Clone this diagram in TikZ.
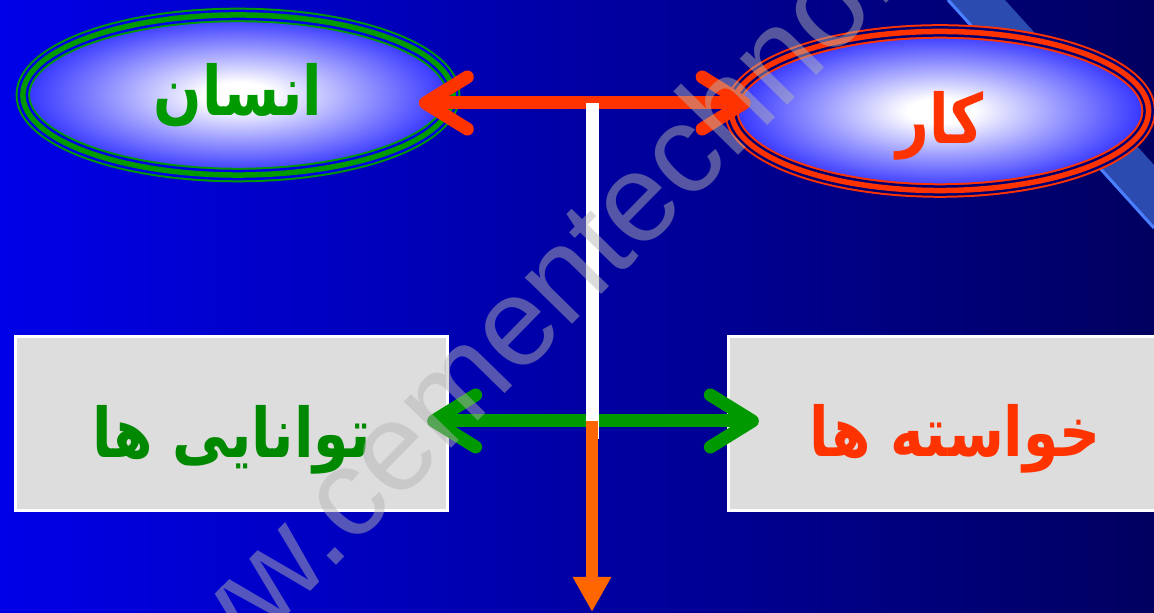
\documentclass[tikz,border=0pt]{standalone}
\usepackage{fontspec}
\setmainfont{Liberation Sans}
\newfontfamily\arabicfont[Script=Arabic, FakeStretch=0.83]{DejaVu Sans}
\TeXXeTstate=1
\usetikzlibrary{positioning,shapes.geometric,arrows.meta}
\definecolor{bgleft}{HTML}{0000E8}
\definecolor{bgmid}{HTML}{0000B8}
\definecolor{bgright}{HTML}{000060}
\definecolor{bandblue}{HTML}{2B4BB0}
\definecolor{bandedge}{HTML}{4A80FF}
\definecolor{ovalblue}{HTML}{3030FF}
\definecolor{humangreen}{HTML}{009900}
\definecolor{boxgreen}{HTML}{008800}
\definecolor{workred}{HTML}{FF3300}
\definecolor{outorange}{HTML}{FF6600}
\definecolor{boxgray}{HTML}{DDDDDD}
\definecolor{markgray}{HTML}{B4B4B4}
\newcommand{\fatext}[2][0pt]{\raisebox{#1}[\height][\depth]{\arabicfont\bfseries\beginR #2\endR}}
\pgfdeclareradialshading{glow}{\pgfpoint{0bp}{0bp}}{color(0bp)=(white); color(4bp)=(white); color(25bp)=(ovalblue); color(50bp)=(ovalblue)}
\tikzset{barb/.tip={Straight Barb[round, length=0.42cm, width=0.52cm]}}

\begin{document}
\begin{tikzpicture}[x=0.01cm, y=-0.01cm,
	every node/.style={font=\fontsize{19.5}{22}\selectfont,
	                   inner sep=0pt
	                   },
	oval/.style 2 args={ellipse,
	                    shading=glow,
	                    postaction={draw=#1, line width=0.145cm},
	                    postaction={draw=#2, line width=0.105cm},
	                    postaction={draw=#1, line width=0.055cm}
	},
	card/.style={rectangle, fill=boxgray, draw=white, line width=0.03cm,
	             minimum height=1.74cm
	},
	link/.style={draw=#1, line width=0.13cm, barb-barb}
]
	\clip (0,0) rectangle (1154,613);
	\shade[left color=bgleft, middle color=bgmid, right color=bgright] (0,0) rectangle (1154,613);
	\fill[bandblue] (948,0) -- (1154,228) -- (1154,165) -- (1005,0) -- cycle;
	\draw[bandedge, line width=0.03cm] (948,0) -- (1154,228);

	\node (human) [oval={humangreen}{bgleft}, minimum width=4.3cm, minimum height=1.6cm] at (238,95) {\textcolor{humangreen}{\fatext{انسان}}};
	\node (work) [oval={workred}{bgright!80!bgmid}, minimum width=4.17cm, minimum height=1.59cm] at (940,111) {\textcolor{workred}{\fatext[-0.15cm]{کار}}};
	\node (abilities) [card, minimum width=4.32cm] at (231.5,423.5) {\textcolor{boxgreen}{\fatext[-0.16cm]{توانایی ها}}};
	\node (wants) [card, minimum width=4.53cm] at (955,423.5) {\textcolor{workred}{\fatext[-0.15cm]{خواسته ها}}};

	\coordinate (top) at (592,103);
	\coordinate (bot) at (592,421);
	\coordinate (out) at (592,612);

	\draw[link=workred, shorten <=-0.35cm, shorten >=-0.2cm] (human.east |- top) -- (work.west |- top);
	\draw[link=humangreen, shorten <=-0.22cm, shorten >=-0.32cm] (abilities.east |- bot) -- (wants.west |- bot);
	\draw[white, line width=0.13cm] (top) -- ([yshift=-0.18cm]bot);
	\draw[outorange, line width=0.12cm, -{Triangle[length=0.35cm, width=0.36cm]}] (bot) -- (out);

	\node (mark) [rotate=45.6, text=markgray, opacity=0.48, font=\fontsize{35.6}{40}\selectfont] at (574,259) {www.cementechno.com};
\end{tikzpicture}
\end{document}
